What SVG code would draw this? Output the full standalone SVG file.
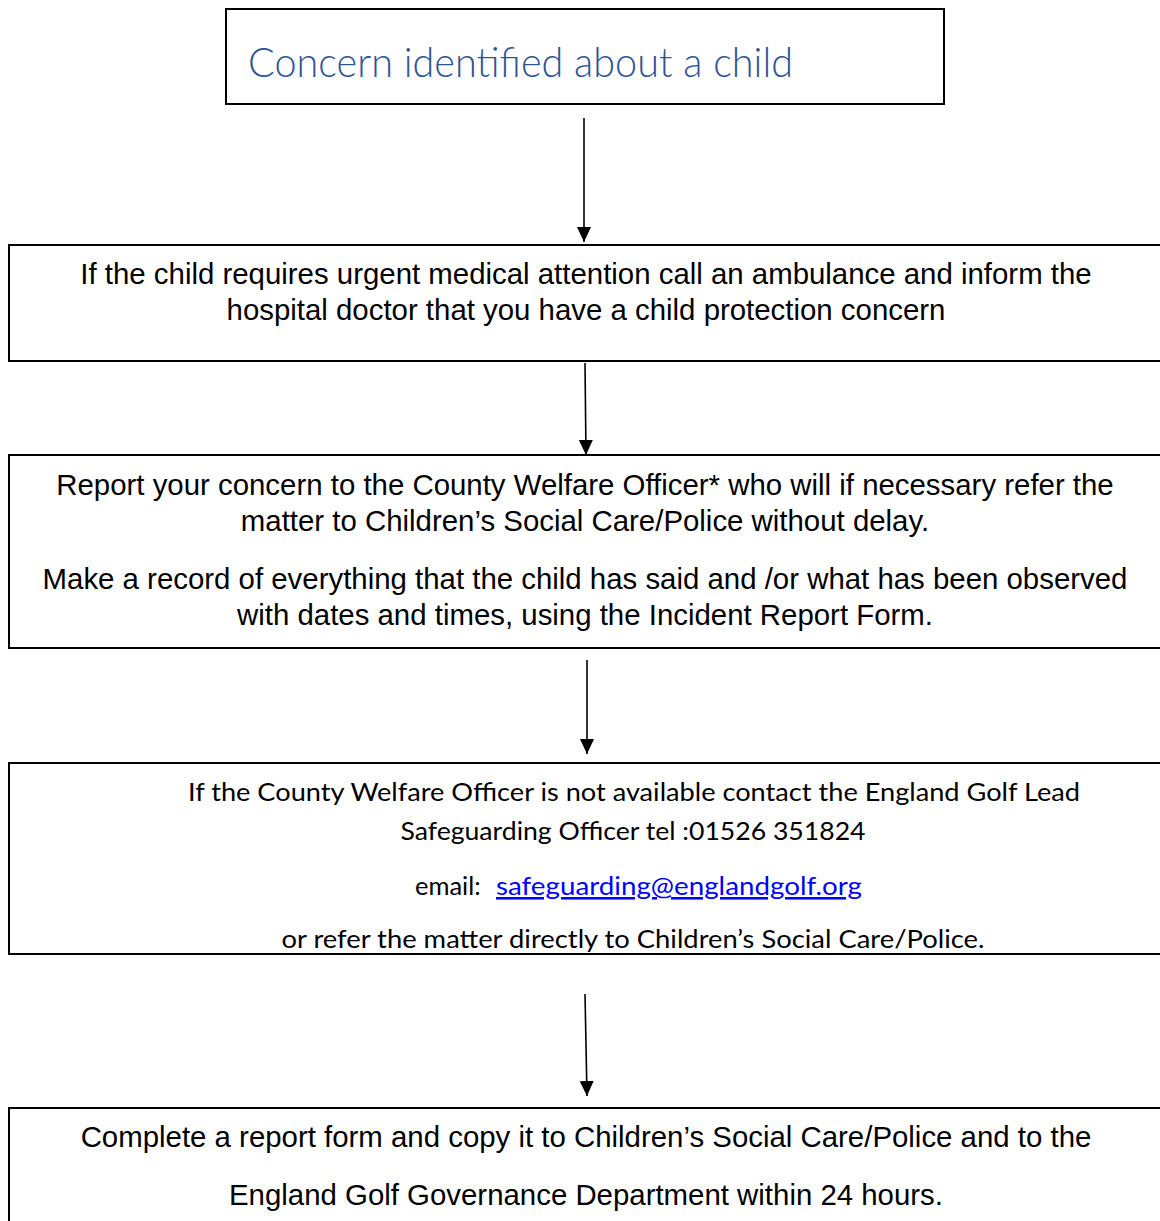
<svg xmlns="http://www.w3.org/2000/svg" width="1160" height="1221" viewBox="0 0 1160 1221">
<style>
.box{fill:#fff;stroke:#000;stroke-width:2}
.ar{font-family:"Liberation Sans",Arial,sans-serif;font-size:29.4px;fill:#000;text-anchor:middle}
.cb{font-family:Lato,"Open Sans","Liberation Sans",sans-serif;font-size:25.5px;fill:#000;text-anchor:middle}
.title{font-family:Lato,"Open Sans","Liberation Sans",sans-serif;font-weight:300;font-size:42px;fill:#2F5496}
.conn{stroke:#000;stroke-width:1.6;fill:none}
.link{fill:#0000FF;text-decoration:underline}
</style>
<defs>
<marker id="ah" markerUnits="userSpaceOnUse" markerWidth="16" markerHeight="18" refX="15" refY="7" orient="auto" viewBox="0 0 16 14">
<path d="M0,0 L15,7 L0,14 Z" fill="#000"/>
</marker>
</defs>
<g id="n1">
<rect class="box" x="226" y="9" width="718" height="95"/>
<text class="title" x="248" y="77" textLength="545" lengthAdjust="spacingAndGlyphs">Concern identified about a child</text>
</g>
<g id="n2">
<rect class="box" x="9" y="245" width="1160" height="116"/>
<text class="ar" x="586" y="284">If the child requires urgent medical attention call an ambulance and inform the</text>
<text class="ar" x="586" y="320">hospital doctor that you have a child protection concern</text>
</g>
<g id="n3">
<rect class="box" x="9" y="455" width="1160" height="193"/>
<text class="ar" x="585" y="495">Report your concern to the County Welfare Officer* who will if necessary refer the</text>
<text class="ar" x="585" y="531">matter to Children’s Social Care/Police without delay.</text>
<text class="ar" x="585" y="589">Make a record of everything that the child has said and /or what has been observed</text>
<text class="ar" x="585" y="625">with dates and times, using the Incident Report Form.</text>
</g>
<g id="n4">
<rect class="box" x="9" y="763" width="1160" height="191"/>
<text class="cb" x="634" y="801" textLength="892" lengthAdjust="spacingAndGlyphs">If the County Welfare Officer is not available contact the England Golf Lead</text>
<text class="cb" x="633" y="840" textLength="465" lengthAdjust="spacingAndGlyphs">Safeguarding Officer tel :01526 351824</text>
<text class="cb" x="415" y="895" style="text-anchor:start">email: </text>
<text class="cb link" x="496" y="895" style="text-anchor:start" textLength="366" lengthAdjust="spacingAndGlyphs">safeguarding@englandgolf.org</text>
<text class="cb" x="633" y="948" textLength="703" lengthAdjust="spacingAndGlyphs">or refer the matter directly to Children’s Social Care/Police.</text>
</g>
<g id="n5">
<rect class="box" x="9" y="1108" width="1160" height="130"/>
<text class="ar" x="586" y="1147">Complete a report form and copy it to Children’s Social Care/Police and to the</text>
<text class="ar" x="586" y="1205">England Golf Governance Department within 24 hours.</text>
</g>
<g id="connectors">
<line class="conn" x1="584" y1="118" x2="584" y2="242" marker-end="url(#ah)"/>
<line class="conn" x1="585" y1="363" x2="586" y2="455" marker-end="url(#ah)"/>
<line class="conn" x1="587" y1="660" x2="587" y2="754" marker-end="url(#ah)"/>
<line class="conn" x1="585" y1="994" x2="587" y2="1096" marker-end="url(#ah)"/>
</g>
</svg>
